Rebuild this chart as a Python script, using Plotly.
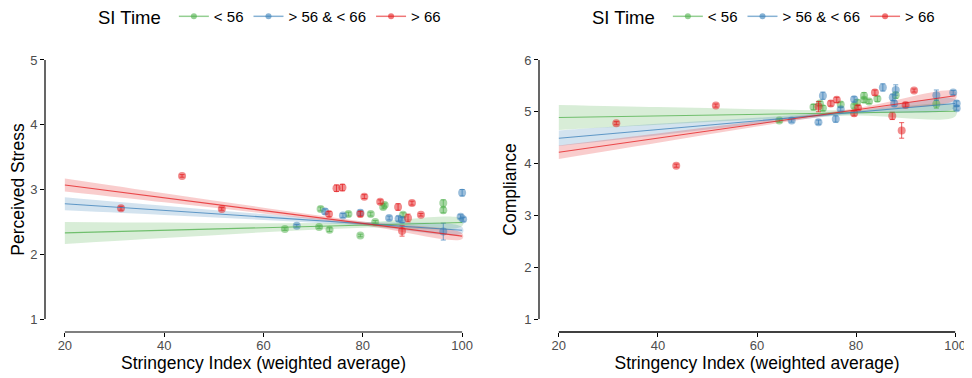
import plotly.graph_objects as go

# ---------------- data ----------------
groups = ["< 56", "> 56 & < 66", "> 66"]
colors = {"< 56": (77, 175, 74), "> 56 & < 66": (55, 126, 184), "> 66": (228, 26, 28)}

# Left panel: Perceived Stress
stress_green_x = [64.3, 71.5, 71.2, 73.3, 77.1, 79.5, 81.6, 82.5, 84.1, 84.4, 88.1, 96.2, 96.2]
stress_green_y = [2.39, 2.70, 2.42, 2.38, 2.62, 2.29, 2.62, 2.50, 2.73, 2.76, 2.61, 2.79, 2.68]
stress_green_e = [0.02, 0.03, 0.02, 0.03, 0.03, 0.02, 0.03, 0.02, 0.03, 0.03, 0.03, 0.05, 0.04]
stress_blue_x = [66.7, 72.4, 76.0, 79.5, 85.3, 87.2, 87.9, 96.2, 100.0, 99.7, 100.2]
stress_blue_y = [2.44, 2.66, 2.60, 2.64, 2.56, 2.55, 2.53, 2.35, 2.95, 2.58, 2.54]
stress_blue_e = [0.02, 0.04, 0.03, 0.04, 0.03, 0.04, 0.04, 0.13, 0.05, 0.03, 0.03]
stress_red_x = [31.3, 43.6, 51.6, 73.2, 74.7, 75.9, 80.3, 83.5, 87.1, 87.9, 89.1, 89.9, 91.7, 79.5]
stress_red_y = [2.71, 3.21, 2.70, 2.62, 3.02, 3.03, 2.89, 2.81, 2.73, 2.36, 2.56, 2.79, 2.61, 2.62]
stress_red_e = [0.03, 0.02, 0.02, 0.04, 0.05, 0.05, 0.03, 0.03, 0.05, 0.08, 0.06, 0.03, 0.02, 0.04]

# fitted lines (value at x=20 and x=100) and CI half-widths at band_x
fit_x = [20, 100]
band_x = [20, 40, 60, 80, 100]
stress_fit = {"< 56": [2.33, 2.49], "> 56 & < 66": [2.78, 2.37], "> 66": [3.07, 2.28]}
stress_ci = {"< 56": [0.17, 0.12, 0.07, 0.04, 0.055],
             "> 56 & < 66": [0.10, 0.07, 0.045, 0.03, 0.05],
             "> 66": [0.10, 0.07, 0.045, 0.03, 0.045]}

# Right panel: Compliance
comp_green_x = [64.5, 71.4, 72.7, 73.3, 76.9, 79.6, 80.2, 81.6, 81.6, 82.6, 84.3, 88.0, 96.2]
comp_green_y = [4.83, 5.09, 5.16, 5.07, 5.14, 5.11, 5.18, 5.31, 5.23, 5.20, 5.25, 5.32, 5.15]
comp_green_e = [0.03, 0.05, 0.04, 0.05, 0.05, 0.04, 0.05, 0.06, 0.05, 0.04, 0.05, 0.06, 0.08]
comp_blue_x = [67.0, 72.4, 73.3, 75.9, 76.9, 79.6, 85.4, 87.4, 87.7, 88.0, 96.2, 99.6, 100.3, 100.3]
comp_blue_y = [4.83, 4.80, 5.31, 4.86, 5.05, 5.24, 5.47, 5.28, 5.16, 5.42, 5.32, 5.37, 5.16, 5.07]
comp_blue_e = [0.03, 0.04, 0.07, 0.06, 0.04, 0.05, 0.07, 0.06, 0.05, 0.10, 0.10, 0.04, 0.05, 0.04]
comp_red_x = [31.6, 43.7, 51.7, 72.4, 74.9, 76.1, 79.6, 80.4, 83.8, 87.3, 89.2, 90.0, 91.7]
comp_red_y = [4.78, 3.96, 5.12, 5.10, 5.16, 5.23, 4.97, 5.08, 5.37, 4.92, 4.64, 5.13, 5.41]
comp_red_e = [0.03, 0.03, 0.03, 0.10, 0.05, 0.05, 0.05, 0.04, 0.05, 0.07, 0.15, 0.04, 0.03]

comp_fit = {"< 56": [4.89, 5.01], "> 56 & < 66": [4.49, 5.16], "> 66": [4.22, 5.31]}
comp_ci = {"< 56": [0.24, 0.17, 0.10, 0.05, 0.10],
           "> 56 & < 66": [0.15, 0.11, 0.06, 0.035, 0.08],
           "> 66": [0.13, 0.09, 0.05, 0.03, 0.08]}

x_ticks = [20, 40, 60, 80, 100]
stress_ticks = [1, 2, 3, 4, 5]
comp_ticks = [1, 2, 3, 4, 5, 6]

FONT = "Liberation Sans, Arial, sans-serif"

def rgba(g, a):
    r, gg, b = colors[g]
    return f"rgba({r},{gg},{b},{a})"

fig = go.Figure()

def add_panel(xa, ya, pts, fit, ci, legend):
    for g in groups:
        f0, f1 = fit[g]
        line_y = [f0 + (f1 - f0) * (bx - fit_x[0]) / (fit_x[1] - fit_x[0]) for bx in band_x]
        up = [v + c for v, c in zip(line_y, ci[g])]
        lo = [v - c for v, c in zip(line_y, ci[g])]
        fig.add_trace(go.Scatter(x=band_x + band_x[::-1], y=up + lo[::-1], fill="toself",
                                 fillcolor=rgba(g, 0.22), line=dict(width=0), mode="lines",
                                 line_shape="spline", hoverinfo="skip", showlegend=False,
                                 xaxis=xa, yaxis=ya))
    for g in groups:
        xs, ys, es = pts[g]
        fig.add_trace(go.Scatter(x=xs, y=ys, mode="markers",
                                 marker=dict(size=8, color=rgba(g, 0.5), line=dict(width=0)),
                                 error_y=dict(type="data", array=es, visible=True, color=rgba(g, 0.7),
                                              thickness=1, width=2.5),
                                 showlegend=False, xaxis=xa, yaxis=ya))
    for g in groups:
        fig.add_trace(go.Scatter(x=fit_x, y=fit[g], mode="lines",
                                 line=dict(color=rgba(g, 0.75), width=1.1),
                                 showlegend=False, xaxis=xa, yaxis=ya))
    for g in groups:
        fig.add_trace(go.Scatter(x=[None], y=[None], mode="lines+markers", name=g,
                                 line=dict(color=rgba(g, 0.6), width=1.5),
                                 marker=dict(size=6, color=rgba(g, 0.6)),
                                 legend=legend, xaxis=xa, yaxis=ya))

add_panel("x", "y",
          {"< 56": (stress_green_x, stress_green_y, stress_green_e),
           "> 56 & < 66": (stress_blue_x, stress_blue_y, stress_blue_e),
           "> 66": (stress_red_x, stress_red_y, stress_red_e)},
          stress_fit, stress_ci, "legend")
add_panel("x2", "y2",
          {"< 56": (comp_green_x, comp_green_y, comp_green_e),
           "> 56 & < 66": (comp_blue_x, comp_blue_y, comp_blue_e),
           "> 66": (comp_red_x, comp_red_y, comp_red_e)},
          comp_fit, comp_ci, "legend2")

W, H = 972, 378
OFF = 8  # page body offset


def xp(p):
    return (p - OFF) / W


def yp(p):
    return 1 - (p - OFF) / H


ydom = [yp(332), yp(47)]

axis_common = dict(showgrid=False, zeroline=False, showline=False, ticks="outside", ticklen=4,
                   tickcolor="black", tickwidth=1, automargin=False,
                   tickfont=dict(size=13, color="#4D4D4D", family=FONT))

fig.update_layout(
    width=W, height=H, margin=dict(l=0, r=0, t=0, b=0, autoexpand=False),
    paper_bgcolor="white", plot_bgcolor="white",
    font=dict(family=FONT, color="black"),
    xaxis=dict(domain=[xp(45), xp(482)], range=[16, 104], tickvals=x_ticks, anchor="y",
               ticklabelstandoff=-3,
               title=dict(text="Stringency Index (weighted average)", font=dict(size=17.5), standoff=0),
               **axis_common),
    yaxis=dict(domain=ydom, range=[0.8, 5.2], tickvals=stress_ticks, anchor="x",
               title=dict(text="Perceived Stress", font=dict(size=17.5), standoff=1), **axis_common),
    xaxis2=dict(domain=[xp(539), xp(975)], range=[16, 104], tickvals=x_ticks, anchor="y2",
                ticklabelstandoff=-3,
                title=dict(text="Stringency Index (weighted average)", font=dict(size=17.5), standoff=0),
                **axis_common),
    yaxis2=dict(domain=ydom, range=[0.75, 6.25], tickvals=comp_ticks, anchor="x2",
                title=dict(text="Compliance", font=dict(size=17.5), standoff=3), **axis_common),
    legend=dict(title=dict(text="SI Time ", font=dict(size=18.5)), orientation="h",
                x=88 / W, xanchor="left", y=1.021, yanchor="top", font=dict(size=15),
                bgcolor="rgba(0,0,0,0)", itemwidth=30, tracegroupgap=0),
    legend2=dict(title=dict(text="SI Time ", font=dict(size=18.5)), orientation="h",
                 x=582 / W, xanchor="left", y=1.021, yanchor="top", font=dict(size=15),
                 bgcolor="rgba(0,0,0,0)", itemwidth=30, tracegroupgap=0),
    shapes=[
        dict(type="line", xref="x domain", yref="y", x0=0, x1=0, y0=1, y1=5, line=dict(color="black", width=1.2)),
        dict(type="line", xref="x", yref="y domain", x0=20, x1=100, y0=0, y1=0, line=dict(color="black", width=1.2)),
        dict(type="line", xref="x2 domain", yref="y2", x0=0, x1=0, y0=1, y1=6, line=dict(color="black", width=1.2)),
        dict(type="line", xref="x2", yref="y2 domain", x0=20, x1=100, y0=0, y1=0, line=dict(color="black", width=1.5)),
    ],
)

fig.write_html("out.html")
